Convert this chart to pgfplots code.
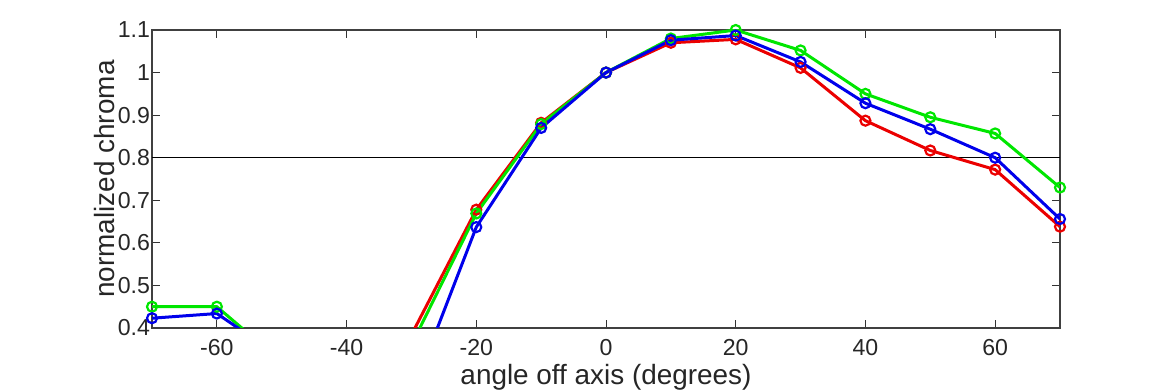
\documentclass[border=0pt]{standalone}
\usepackage{fontspec}
\setmainfont{Liberation Sans}
\usepackage{pgfplots}
\pgfplotsset{compat=1.18}
\definecolor{cr}{RGB}{235,0,0}
\definecolor{cg}{RGB}{0,230,0}
\definecolor{cb}{RGB}{0,0,235}
\begin{document}
\begin{tikzpicture}
\path[use as bounding box] (0,0) rectangle (585bp,195bp);
\begin{axis}[
  at={(76bp,31bp)}, anchor=south west,
  scale only axis, width=454bp, height=149bp,
  xmin=-70, xmax=70, ymin=0.4, ymax=1.1,
  xtick={-60,-40,...,60},
  ytick={0.4,0.5,0.6,0.7,0.8,0.9,1.0,1.1},
  tick align=inside, major tick length=4bp,
  tick style={black!80, line width=0.5pt},
  axis line style={black!75, line width=0.6pt},
  /pgf/number format/assume math mode=true,
  yticklabel style={/pgf/number format/fixed, /pgf/number format/precision=1, xshift=2.5bp},
  xticklabel style={yshift=-2bp},
  ticklabel style={font=\fontsize{11.6}{13}\selectfont, black!85},
  label style={font=\fontsize{14}{16}\selectfont, black!85},
  xlabel={angle off axis (degrees)},
  ylabel={normalized chroma},
  xlabel style={yshift=2.5bp},
  ylabel style={yshift=-5.5bp},
  clip marker paths=false,
  every axis plot/.append style={line width=1.5bp},
  mark options={solid, line width=1.1bp},
]
\addplot[black, line width=0.6pt, forget plot] coordinates {(-70,0.8) (70,0.8)};
% red
\addplot[cr, no marks] coordinates {(-70,0.30) (-60,0.30) (-50,0.25) (-40,0.2) (-30,0.384) (-20,0.678) (-10,0.882) (0,1.0) (10,1.070) (20,1.078) (30,1.011) (40,0.887) (50,0.817) (60,0.772) (70,0.638)};
\addplot[cr, only marks, mark=o, mark size=2.5bp] coordinates {(-20,0.678) (-10,0.882) (0,1.0) (10,1.070) (20,1.078) (30,1.011) (40,0.887) (50,0.817) (60,0.772) (70,0.638)};
% green
\addplot[cg, no marks] coordinates {(-70,0.450) (-60,0.450) (-50,0.32) (-40,0.2) (-30,0.36) (-20,0.669) (-10,0.879) (0,1.0) (10,1.080) (20,1.100) (30,1.052) (40,0.950) (50,0.895) (60,0.857) (70,0.730)};
\addplot[cg, only marks, mark=o, mark size=2.5bp] coordinates {(-70,0.450) (-60,0.450) (-20,0.669) (-10,0.879) (0,1.0) (10,1.080) (20,1.100) (30,1.052) (40,0.950) (50,0.895) (60,0.857) (70,0.730)};
% blue
\addplot[cb, no marks] coordinates {(-70,0.423) (-60,0.434) (-50,0.33) (-40,0.2) (-30,0.242) (-20,0.637) (-10,0.870) (0,1.0) (10,1.076) (20,1.087) (30,1.025) (40,0.928) (50,0.867) (60,0.800) (70,0.656)};
\addplot[cb, only marks, mark=o, mark size=2.5bp] coordinates {(-70,0.423) (-60,0.434) (-20,0.637) (-10,0.870) (0,1.0) (10,1.076) (20,1.087) (30,1.025) (40,0.928) (50,0.867) (60,0.800) (70,0.656)};
\end{axis}
\end{tikzpicture}
\end{document}
